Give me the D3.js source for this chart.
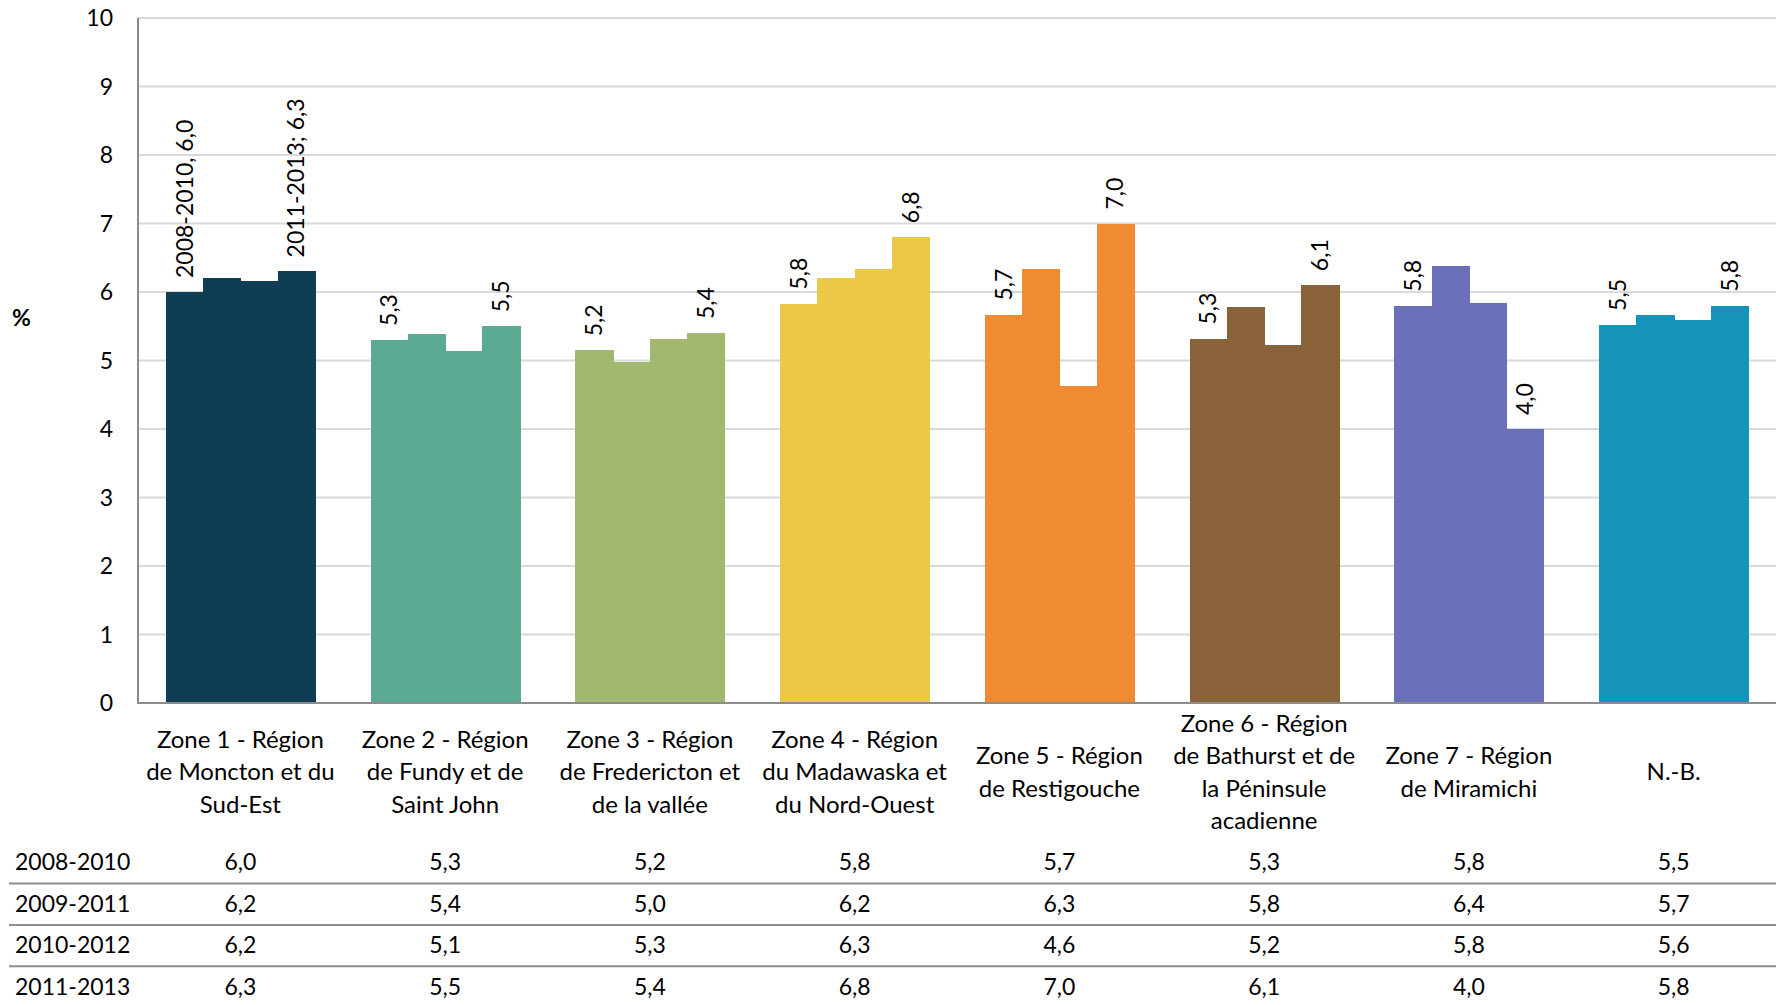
<!DOCTYPE html>
<meta charset="utf-8">
<style>
    body { margin: 0; background: #fff; }
    text { font-family: Lato, "Open Sans", sans-serif; fill: #000; }
    .grid line { stroke: #d9d9d9; stroke-width: 2px; }
    .tbl text, .tick text { font-size: 23px; }
    .cat text { font-size: 24px; }
    .lbl { font-size: 23px; }
    rect { shape-rendering: crispEdges; }
</style>
<svg width="1776" height="1005"></svg>
<script src="https://d3js.org/d3.v7.min.js"></script>
<script>
    var zones = ["Zone 1 - Région|de Moncton et du|Sud-Est",
                 "Zone 2 - Région|de Fundy et de|Saint John",
                 "Zone 3 - Région|de Fredericton et|de la vallée",
                 "Zone 4 - Région|du Madawaska et|du Nord-Ouest",
                 "Zone 5 - Région|de Restigouche",
                 "Zone 6 - Région|de Bathurst et de|la Péninsule|acadienne",
                 "Zone 7 - Région|de Miramichi",
                 "N.-B."];
    var periods = ["2008-2010", "2009-2011", "2010-2012", "2011-2013"];
    var colors = ["#0f3d54", "#5ca994", "#a3b86f", "#ebc845", "#f08b31", "#8a6239", "#6a70b8", "#1594bb"];
    var v2008 = [6.0, 5.3, 5.15, 5.83, 5.67, 5.32, 5.8, 5.52];
    var v2009 = [6.2, 5.38, 4.98, 6.2, 6.33, 5.78, 6.38, 5.66];
    var v2010 = [6.16, 5.14, 5.32, 6.33, 4.63, 5.22, 5.84, 5.59];
    var v2011 = [6.3, 5.5, 5.4, 6.8, 7.0, 6.1, 4.0, 5.8];
    var yTicks = [0, 1, 2, 3, 4, 5, 6, 7, 8, 9, 10];

    var series = [v2008, v2009, v2010, v2011];
    var svg = d3.select("svg");
    var pL = 138, pR = 1776, pT = 18, pB = 703;
    var fmt = function (v) { return v.toFixed(1).replace(".", ","); };

    var x = d3.scaleBand().domain(d3.range(zones.length)).range([pL, pR])
        .paddingInner(0.272).paddingOuter(0.136);
    var xs = d3.scaleBand().domain(d3.range(periods.length)).range([0, x.bandwidth()]);
    var y = d3.scaleLinear().domain([0, 10]).range([pB, pT]);

    // grid
    svg.append("g").attr("class", "grid")
        .selectAll("line").data(yTicks.slice(1)).enter().append("line")
        .attr("x1", pL).attr("x2", pR)
        .attr("y1", function (d) { return y(d); }).attr("y2", function (d) { return y(d); });

    // tick labels
    svg.append("g").attr("class", "tick")
        .selectAll("text").data(yTicks).enter().append("text")
        .attr("x", 113).attr("y", function (d) { return y(d); })
        .attr("dy", "0.35em").attr("text-anchor", "end")
        .text(function (d) { return d; });

    svg.append("text").attr("x", 12).attr("y", 318).attr("dy", "0.35em")
        .style("font-size", "23px").style("font-weight", "bold").text("%");

    // bars
    var grp = svg.selectAll(".zone").data(zones).enter().append("g")
        .attr("class", "zone")
        .attr("transform", function (d, i) { return "translate(" + x(i) + ",0)"; });

    grp.selectAll("rect")
        .data(function (d, i) { return series.map(function (s) { return { z: i, v: s[i] }; }); })
        .enter().append("rect")
        .attr("x", function (d, j) { return xs(j); })
        .attr("width", xs.bandwidth() + 1)
        .attr("y", function (d) { return y(d.v); })
        .attr("height", function (d) { return pB - y(d.v); })
        .style("fill", function (d) { return colors[d.z]; });

    // data labels on first and last bar
    grp.selectAll(".lbl")
        .data(function (d, i) {
            return [{ j: 0, z: i, v: v2008[i] }, { j: 3, z: i, v: v2011[i] }];
        })
        .enter().append("text").attr("class", "lbl")
        .attr("transform", function (d) {
            return "translate(" + (xs(d.j) + xs.bandwidth() / 2) + "," + (y(d.v) - 14) + ") rotate(-90)";
        })
        .attr("dy", "0.35em").attr("text-anchor", "start")
        .text(function (d) {
            if (d.z == 0 && d.j == 0) return periods[0] + ", " + fmt(d.v);
            if (d.z == 0 && d.j == 3) return periods[3] + "; " + fmt(d.v);
            return fmt(d.v);
        });

    // axes
    svg.append("line").attr("x1", pL).attr("x2", pL).attr("y1", pT).attr("y2", pB + 1)
        .style("stroke", "#8c8c8c").style("stroke-width", 2);
    svg.append("line").attr("x1", pL - 1).attr("x2", pR).attr("y1", pB).attr("y2", pB)
        .style("stroke", "#8c8c8c").style("stroke-width", 2);

    // category labels
    var cat = svg.append("g").attr("class", "cat");
    zones.forEach(function (z, i) {
        var lines = z.split("|");
        var cx = x(i) + x.bandwidth() / 2;
        var t = cat.append("text").attr("text-anchor", "middle");
        lines.forEach(function (l, k) {
            t.append("tspan").attr("x", cx)
                .attr("y", 772 + (k - (lines.length - 1) / 2) * 32.3)
                .attr("dy", "0.35em").text(l);
        });
    });

    // data table
    var rowY = [862, 904, 945, 986.5];
    var tbl = svg.append("g").attr("class", "tbl");
    periods.forEach(function (p, r) {
        tbl.append("text").attr("x", 15).attr("y", rowY[r]).attr("dy", "0.35em").text(p);
        series[r].forEach(function (v, i) {
            tbl.append("text").attr("x", x(i) + x.bandwidth() / 2).attr("y", rowY[r])
                .attr("dy", "0.35em").attr("text-anchor", "middle").text(fmt(v));
        });
        if (r > 0) {
            var ly = (rowY[r - 1] + rowY[r]) / 2 + 0.5;
            tbl.append("line").attr("x1", 9).attr("x2", pR).attr("y1", ly).attr("y2", ly)
                .style("stroke", "#8c8c8c").style("stroke-width", 2);
        }
    });
</script>
